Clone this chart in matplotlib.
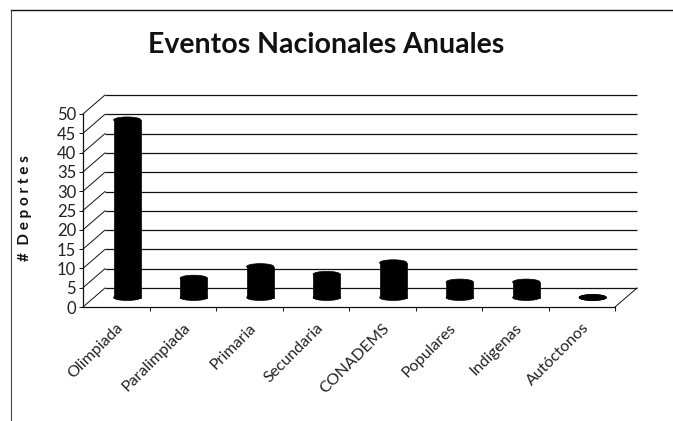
import matplotlib
matplotlib.use("Agg")
import matplotlib.pyplot as plt
from matplotlib.patches import Ellipse, Rectangle
from matplotlib.lines import Line2D
import numpy as np

# ---- data ----
categories = ["Olimpiada", "Paralimpiada", "Primaria", "Secundaria",
              "CONADEMS", "Populares", "Indigenas", "Autóctonos"]
deportes = [46, 5, 8, 6, 9, 4, 4, 0]
y_ticks = list(range(0, 51, 5))
title = "Eventos Nacionales Anuales"
y_label = "#  D e p o r t e s"

plt.rcParams['font.family'] = ['Lato', 'DejaVu Sans']

W, H = 673, 421
fig = plt.figure(figsize=(W / 100, H / 100), dpi=100)
fig.patch.set_facecolor("white")

# front plane of the pseudo-3D box (pixels)
left_px, right_px = 83, 615
top_px, bottom_px = 114, 307
ax = fig.add_axes([left_px / W, 1 - bottom_px / H,
                   (right_px - left_px) / W, (bottom_px - top_px) / H])
n = len(categories)
ymax = 50
ax.set_xlim(-0.5, n - 0.5)
ax.set_ylim(0, ymax)
ax.patch.set_alpha(0)

px_per_cat = (right_px - left_px) / n
px_per_unit = (bottom_px - top_px) / ymax
# depth offset of the back wall, in data units
DX = 22 / px_per_cat
DY = 19 / px_per_unit

ink = "#111111"
lw = 0.9

# back wall gridlines and left side wall diagonals
for v in y_ticks:
    ax.plot([-0.5 + DX, n - 0.5 + DX], [v + DY, v + DY], color=ink, lw=lw,
            clip_on=False, zorder=1, solid_capstyle="butt")
    ax.plot([-0.5, -0.5 + DX], [v, v + DY], color=ink, lw=0.7,
            clip_on=False, zorder=1)

# right edge of the floor
ax.plot([n - 0.5, n - 0.5 + DX], [0, DY], color=ink, lw=0.7,
        clip_on=False, zorder=1)

# cylinders, placed halfway into the depth
bw = 0.41
eh = 1.55
for i, v in enumerate(deportes):
    cx = i + DX / 2
    base = DY / 2
    ax.add_patch(Rectangle((cx - bw / 2, base), bw, v, facecolor="black",
                           edgecolor="black", lw=0.5, zorder=3, clip_on=False))
    ax.add_patch(Ellipse((cx, base), bw, eh, facecolor="black",
                         edgecolor="black", lw=0.5, zorder=3, clip_on=False))
    ax.add_patch(Ellipse((cx, base + v), bw, eh, facecolor="black",
                         edgecolor="black", lw=0.5, zorder=4, clip_on=False))

# axes
for s in ("top", "right"):
    ax.spines[s].set_visible(False)
for s in ("left", "bottom"):
    ax.spines[s].set_color(ink)
    ax.spines[s].set_linewidth(lw)

ax.set_yticks(y_ticks)
ax.set_yticklabels([str(t) for t in y_ticks], fontsize=12, color="#222222")
ax.tick_params(axis="y", direction="out", length=3, width=0.7, pad=2,
               colors=ink, labelcolor="#222222")

ax.set_xticks(np.arange(0.5, n, 1.0))
ax.set_xticklabels([])
ax.tick_params(axis="x", which="major", direction="out", length=3, width=0.7,
               colors=ink)
ax.set_xticks(np.arange(n), minor=True)
ax.set_xticklabels(categories, minor=True, rotation=45, ha="right",
                   rotation_mode="anchor", fontsize=11.5, color="#222222")
ax.tick_params(axis="x", which="minor", length=0, pad=10)

# title and axis label
fig.text(326 / W, 1 - 45 / H, title, ha="center", va="center",
         fontsize=20.5, fontweight="bold", color="#111111")
fig.text(25 / W, 1 - 208 / H, y_label, rotation=90, ha="center",
         va="center", fontsize=11, fontweight="bold", color="#111111")

# chart area border (top and left edges)
fig.add_artist(Line2D([11 / W, 1], [1 - 10 / H, 1 - 10 / H],
                      transform=fig.transFigure, color=ink, lw=1))
fig.add_artist(Line2D([11 / W, 11 / W], [0, 1 - 10 / H],
                      transform=fig.transFigure, color="#444444", lw=0.8))

fig.savefig("out.png", dpi=100)
